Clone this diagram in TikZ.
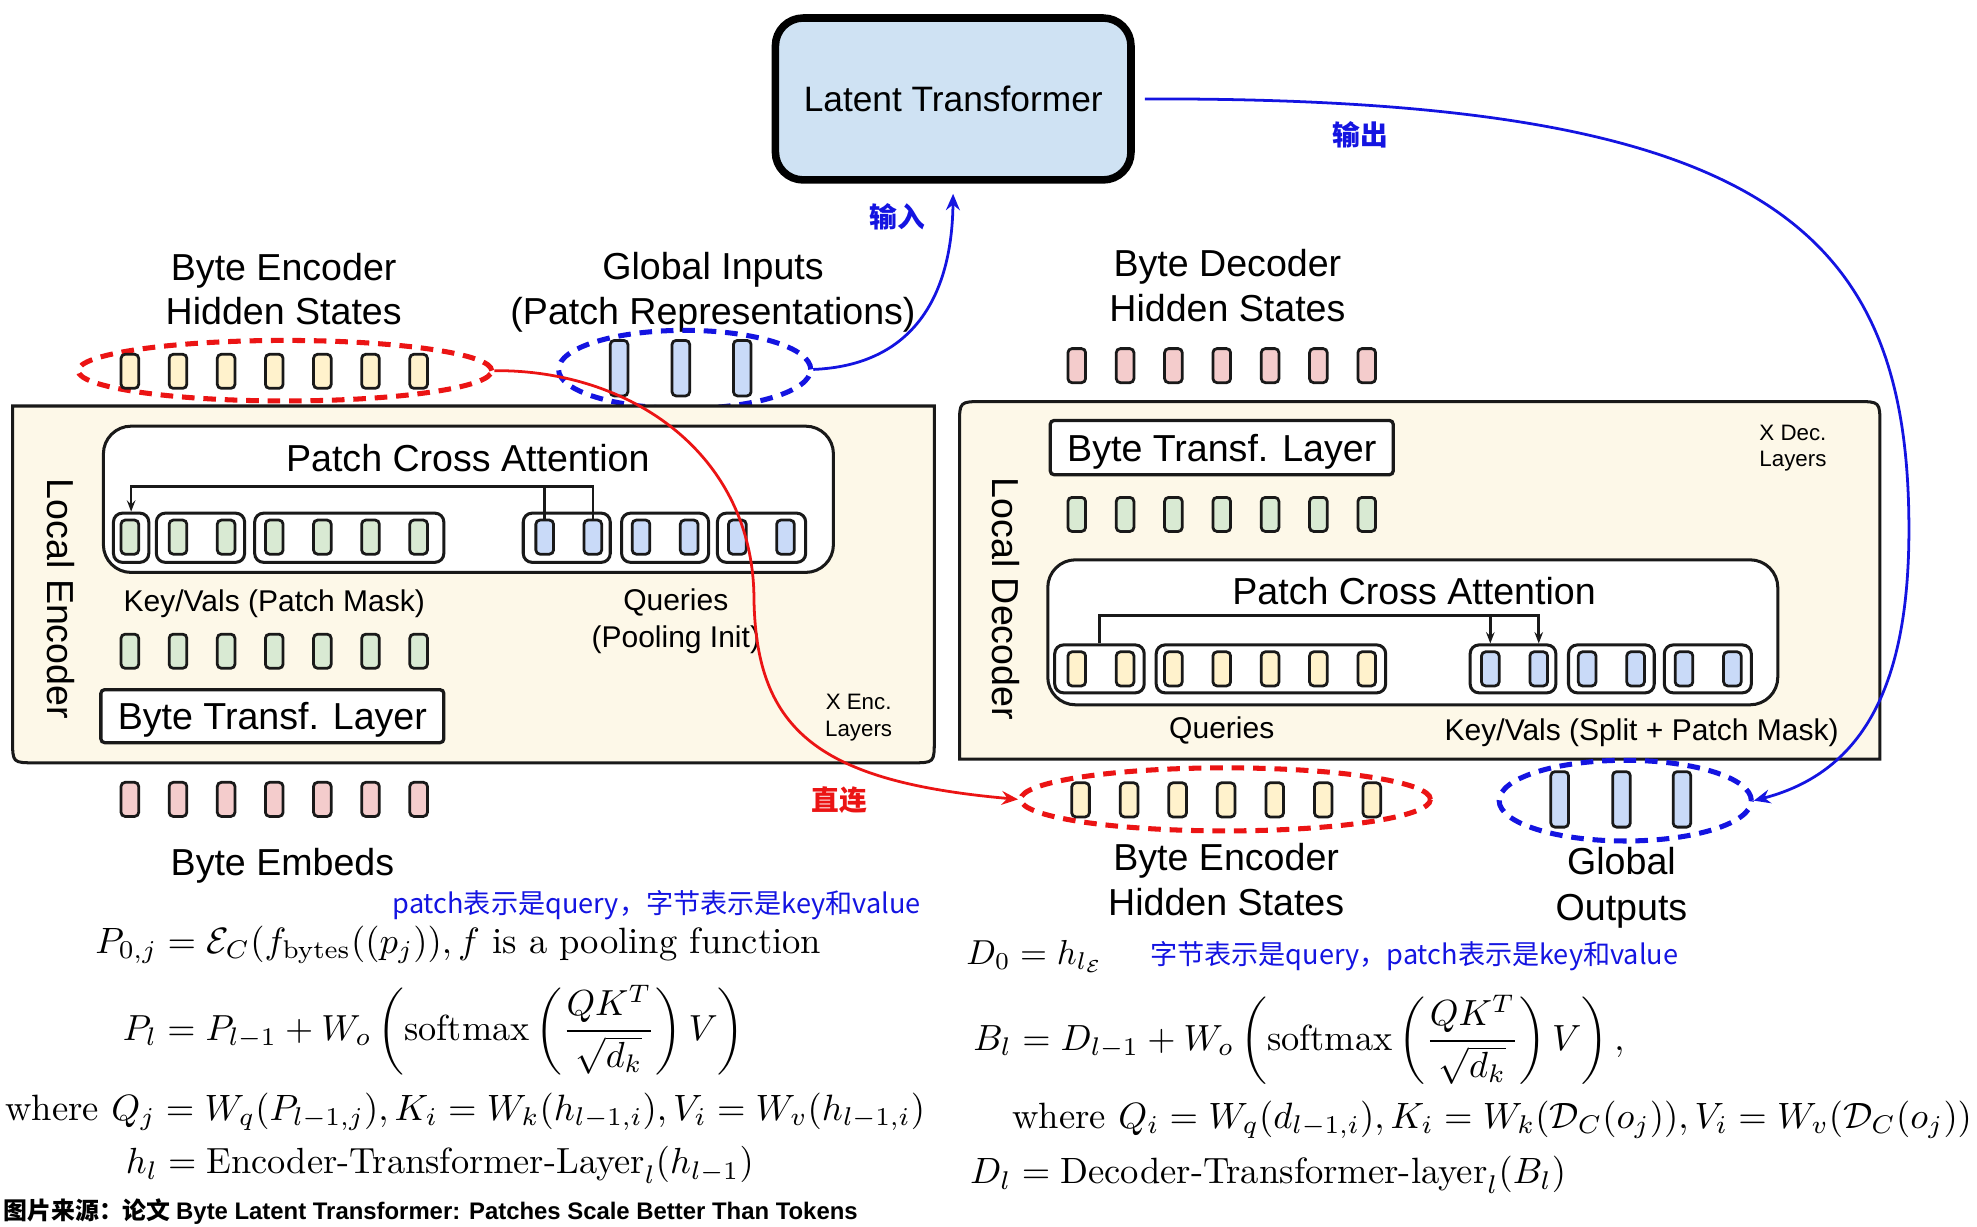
\documentclass[tikz,border=0pt]{standalone}
\usepackage{fontspec}
\usepackage{amsmath}
\usepackage{graphicx}
\usetikzlibrary{arrows.meta,shapes.geometric}
\newfontfamily\arialf{Liberation Sans}
\newfontfamily\cjkf{Noto Sans CJK SC}
\newcommand{\fBig}{\arialf\fontsize{14.9}{17.75}\selectfont}
\newcommand{\fGO}{\arialf\fontsize{14.9}{18}\selectfont}
\newcommand{\fLT}{\arialf\fontsize{14}{16}\selectfont}
\newcommand{\fMid}{\arialf\fontsize{11.9}{14.5}\selectfont}
\newcommand{\fSmall}{\arialf\fontsize{8.85}{10.5}\selectfont}
\newcommand{\fCn}{\cjkf\bfseries\fontsize{11}{12}\selectfont}
\definecolor{frameC}{HTML}{FDF8E8}
\definecolor{ltC}{HTML}{CFE2F3}
\definecolor{yeC}{HTML}{FFF2CC}
\definecolor{grC}{HTML}{D9EAD3}
\definecolor{pkC}{HTML}{F4CCCC}
\definecolor{blC}{HTML}{C9DAF8}
\definecolor{nblue}{RGB}{20,20,225}
\definecolor{nred}{RGB}{235,20,20}
\begin{document}
\begin{tikzpicture}[x=0.5pt,y=-0.5pt,
  tok/.style={draw=black!90, line width=1.1pt, rounded corners=1.6pt, minimum width=7pt, minimum height=13.5pt, inner sep=0pt},
  ttok/.style={tok, minimum height=22pt},
  grp/.style={draw=black!90, line width=1.2pt, rounded corners=3.5pt, minimum height=19.5pt, inner sep=0pt, fill=white},
  pca/.style={draw=black!90, line width=1.2pt, rounded corners=11pt, fill=white, inner sep=0pt, minimum width=289.5pt},
  btl/.style={draw=black!90, line width=1.3pt, rounded corners=1.5pt, fill=white, minimum width=136pt, minimum height=21pt, inner sep=0pt, text depth=0pt, font=\fBig},
  lbl/.style={inner sep=0pt, align=center, font=\fBig},
  mid/.style={inner sep=0pt, align=center, font=\fMid},
  sml/.style={inner sep=0pt, align=center, font=\fSmall},
  cnl/.style={inner sep=0pt, font=\fCn},
  ell/.style={ellipse, line width=2pt, dash pattern=on 5pt off 3.5pt, inner sep=0pt},
  conn/.style={line width=1pt, draw=black!90},
  tipS/.style={-{Stealth[length=4.5pt,width=3.4pt,inset=1.6pt]}},
  tipB/.style={-{Stealth[length=6.5pt,width=5.5pt,inset=2.2pt]}},
  eqn/.style={inner sep=0pt, anchor=west}
]
\useasboundingbox (0,0) rectangle (1568,973);

% Latent Transformer
\node[draw=black, line width=3pt, rounded corners=11pt, fill=ltC, minimum width=141pt, minimum height=64.2pt, inner sep=0pt, font=\fLT] (lt) at (756,78.5) {Latent Transformer};

% top labels
\node[lbl] (lbeh) at (225,229.3) {Byte Encoder\\Hidden States};
\node[lbl] (lgi) at (565.5,232) {Global Inputs\\(Patch Representations)};
\node[lbl] (lbdh) at (973.5,226.6) {Byte Decoder\\Hidden States};

% top ellipses
\node[ell, draw=nred, minimum width=164pt, minimum height=24pt] (rtop) at (226,294) {};
\foreach \i in {0,...,6} \node[tok, fill=yeC] (ht\i) at ({103+38.17*\i},294.5) {};
\node[ell, draw=nblue, minimum width=100pt, minimum height=31pt] (btop) at (543,293) {};
\foreach \i/\x in {0/491,1/540,2/588.7} \node[ttok, fill=blC] (gi\i) at (\x,292) {};

% decoder top pink tokens
\foreach \i in {0,...,6} \node[tok, fill=pkC] (dp\i) at ({854+38.33*\i},290) {};

% ===== Local Encoder =====
\path[draw=black!90, line width=1.2pt, fill=frameC] (10,322) -- (741,322) -- (741,587) .. controls (741,605) .. (723,605) -- (28,605) .. controls (10,605) .. (10,587) -- cycle;
\node[lbl, rotate=-90] (lenc) at (48.5,475) {Local Encoder};
\node[pca, minimum height=58pt] (epca) at (371.5,396) {};
\node[lbl] (epcat) at (371,363) {Patch Cross Attention};
\node[grp, minimum width=14pt] (eg1) at (104,426.5) {};
\node[grp, minimum width=35pt] (eg2) at (159,426.5) {};
\node[grp, minimum width=75pt] (eg3) at (277,426.5) {};
\node[grp, minimum width=34.5pt] (eg4) at (449.5,426.5) {};
\node[grp, minimum width=34.5pt] (eg5) at (527.5,426.5) {};
\node[grp, minimum width=35pt] (eg6) at (604,426.5) {};
\foreach \i in {0,...,6} \node[tok, fill=grC] (ek\i) at ({103+38.17*\i},426) {};
\foreach \i in {0,...,5} \node[tok, fill=blC] (eb\i) at ({432+38.2*\i},426) {};
\draw[conn] (eb0.north) -- (eb0.north |- 0,386);
\draw[conn, tipS] (eb1.north) |- (eg1.north |- 0,386) -- (eg1.north);
\node[mid] (ekv) at (217.5,478.5) {Key/Vals (Patch Mask)};
\node[mid] (eqr) at (536,492.5) {Queries\\(Pooling Init)};
\foreach \i in {0,...,6} \node[tok, fill=grC] (egr\i) at ({103+38.17*\i},516.5) {};
\node[btl] (ebtl) at (216,568) {Byte Transf. Layer};
\node[sml] (exl) at (681,569) {X Enc.\\Layers};
\foreach \i in {0,...,6} \node[tok, fill=pkC] (ep\i) at ({103+38.17*\i},634) {};
\node[lbl] (lbe) at (224,687) {Byte Embeds};

% ===== Local Decoder =====
\path[draw=black!90, line width=1.2pt, fill=frameC] (761,602) -- (761,337) .. controls (761,318.5) .. (779.5,318.5) -- (1472.5,318.5) .. controls (1491,318.5) .. (1491,337) -- (1491,602) -- cycle;
\node[lbl, rotate=-90] (ldec) at (797.5,475) {Local Decoder};
\node[btl, minimum height=21.5pt] (dbtl) at (969,355) {Byte Transf. Layer};
\node[sml] (dxl) at (1422,355.5) {X Dec.\\Layers};
\foreach \i in {0,...,6} \node[tok, fill=grC] (dgr\i) at ({854+38.33*\i},408) {};
\node[pca, minimum height=57.5pt] (dpca) at (1120.5,501.5) {};
\node[lbl] (dpcat) at (1121.5,469) {Patch Cross Attention};
\node[grp, minimum width=35.5pt, minimum height=19pt] (dg1) at (872,530.5) {};
\node[grp, minimum width=91pt, minimum height=19pt] (dg2) at (1008,530.5) {};
\node[grp, minimum width=34pt, minimum height=19pt] (dg3) at (1200,530.5) {};
\node[grp, minimum width=34pt, minimum height=19pt] (dg4) at (1278,530.5) {};
\node[grp, minimum width=34.5pt, minimum height=19pt] (dg5) at (1354.5,530.5) {};
\foreach \i in {0,...,6} \node[tok, fill=yeC] (dy\i) at ({854+38.33*\i},530.5) {};
\foreach \i in {0,...,5} \node[tok, fill=blC] (db\i) at ({1182+38.4*\i},530.5) {};
\draw[conn, tipS] (dg1.north) |- (db1.north |- 0,488) -- (db1.north |- dg3.north);
\draw[conn, tipS] (db0.north |- 0,488) -- (db0.north |- dg3.north);
\node[mid] (dqr) at (969,579.5) {Queries};
\node[mid] (dkv) at (1302,581.5) {Key/Vals (Split + Patch Mask)};

% bottom ellipses
\node[ell, draw=nred, minimum width=162.5pt, minimum height=25pt] (rbot) at (972,634) {};
\foreach \i in {0,...,6} \node[tok, fill=yeC] (bh\i) at ({857+38.5*\i},634.4) {};
\node[ell, draw=nblue, minimum width=100pt, minimum height=32pt] (bbot) at (1289,635) {};
\foreach \i/\x in {0/1237,1/1286,2/1334} \node[ttok, fill=blC] (go\i) at (\x,634) {};
\node[lbl] (lbeh2) at (972.5,697.5) {Byte Encoder\\Hidden States};
\node[lbl, font=\fGO] (lgo) at (1286,704) {Global\\Outputs};

% ===== arrows =====
\draw[nred, line width=1.1pt, tipB] (rtop.east) .. controls (500,293) and (598,360) .. (598,476) .. controls (600,580) and (650,620) .. (rbot.west);
\draw[nblue, line width=1.1pt, tipB, shorten >=4pt] (btop.east) .. controls (720,290) and (755,240) .. (lt.south);
\draw[nblue, line width=1.1pt, tipB, shorten <=4pt] (lt.east) .. controls (1400,77) and (1514,180) .. (1514,420) .. controls (1514,540) and (1480,612) .. (bbot.east);
\node[cnl, text=nblue] (lin) at (712,172) {输入};
\node[cnl, text=nblue] (lout) at (1079,107) {输出};
\node[cnl, text=nred] (lskip) at (666,634.5) {直连};

% ===== notes and equations =====
\node[eqn, text=nblue] (note1) at (311,717.7) {\resizebox{209.3pt}{\height}{\cjkf\fontsize{10.8}{12}\selectfont patch表示是query，字节表示是key和value}};
\node[eqn, text=nblue] (note2) at (911.7,758.7) {\resizebox{209.5pt}{\height}{\cjkf\fontsize{10.8}{12}\selectfont 字节表示是query，patch表示是key和value}};

\node[eqn] (eq1) at (75.2,749.4) {\resizebox{287.8pt}{!}{$P_{0,j}=\mathcal{E}_C(f_{\text{bytes}}((p_j)), f\text{ is a pooling function}$}};
\node[eqn] (eq2) at (97,816.8) {\resizebox{246.5pt}{!}{$\displaystyle P_l=P_{l-1}+W_o\left(\text{softmax}\left(\frac{QK^T}{\sqrt{d_k}}\right)V\right)$}};
\node[eqn] (eq3) at (3.9,881.6) {\resizebox{364.7pt}{!}{$\text{where }Q_j=W_q(P_{l-1,j}),K_i=W_k(h_{l-1,i}),V_i=W_v(h_{l-1,i})$}};
\node[eqn] (eq4) at (99.5,923.9) {\resizebox{248.9pt}{!}{$h_l=\text{Encoder-Transformer-Layer}_l(h_{l-1})$}};

\node[eqn] (eq5) at (766,758.7) {\resizebox{54.5pt}{!}{$D_0=h_{l_{\mathcal{E}}}$}};
\node[eqn] (eq6) at (771.6,824.8) {\resizebox{258.2pt}{!}{$\displaystyle B_l=D_{l-1}+W_o\left(\text{softmax}\left(\frac{QK^T}{\sqrt{d_k}}\right)V\right),$}};
\node[eqn] (eq7) at (802.6,888) {\resizebox{380.5pt}{!}{$\text{where }Q_i=W_q(d_{l-1,i}),K_i=W_k(\mathcal{D}_C(o_j)),V_i=W_v(\mathcal{D}_C(o_j))$}};
\node[eqn] (eq8) at (769,931.8) {\resizebox{236.3pt}{!}{$D_l=\text{Decoder-Transformer-layer}_l(B_l)$}};

\node[eqn] (src) at (2.4,961) {\resizebox{338.7pt}{\height}{\cjkf\bfseries\fontsize{9.5}{11}\selectfont 图片来源：论文 {\arialf\bfseries Byte Latent Transformer: Patches Scale Better Than Tokens}}};
\end{tikzpicture}
\end{document}
